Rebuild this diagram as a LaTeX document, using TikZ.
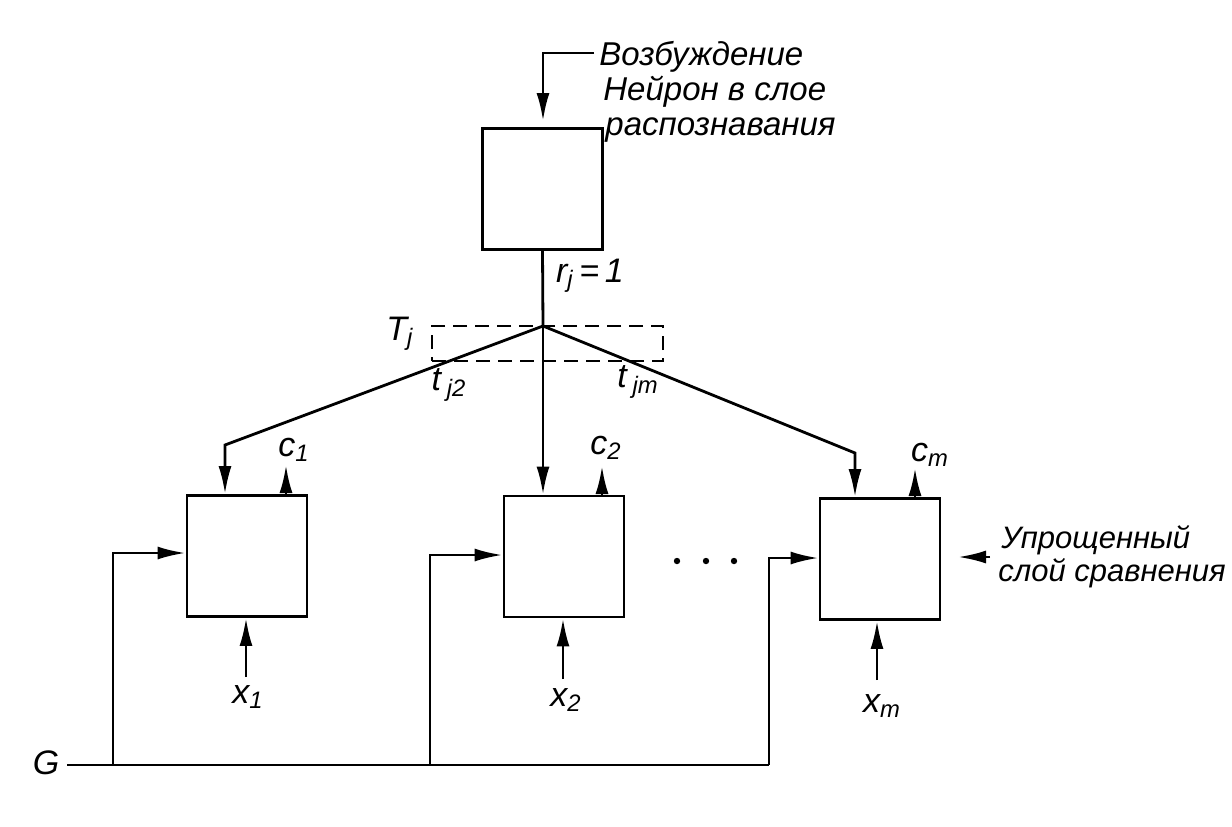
\documentclass[tikz,border=0pt]{standalone}
\usepackage{fontspec}
\setmainfont{Liberation Sans}
\usetikzlibrary{arrows.meta}
\newcommand\sbs[2]{\textit{#1}\textsubscript{\textit{#2}}}
\begin{document}
\begin{tikzpicture}[x=0.5pt,y=-0.5pt, line width=1.4pt,
  blk/.style={draw, minimum width=60pt, minimum height=60.5pt, inner sep=0pt},
  arr/.style={-{Latex[length=14pt,width=6.5pt]}},
  lbl/.style={font=\fontsize{17}{20}\selectfont\itshape, inner sep=0pt},
  dot/.style={circle, fill, inner sep=0pt, minimum size=3.2pt}]
\useasboundingbox (0,0) rectangle (1232,826);
% blocks
\node[blk] (top) at (542.5,189) {};
\node[blk] (b1) at (247,556) {};
\node[blk] (b2) at (564,556.5) {};
\node[blk] (b3) at (880,559) {};
% excitation input
\coordinate (e0) at (594,53);
\coordinate (e1) at (543,53);
\coordinate (e2) at (543,121);
\draw[arr] (e0) -- (e1) -- (e2);
\node[lbl, font=\fontsize{16.5}{17.5}\selectfont\itshape, align=left, anchor=north west] (t1) at (598,40)
  {Возбуждение\\\hspace*{2pt}Нейрон в слое\\\hspace*{3pt}распознавания};
% apex and T_j
\coordinate (apex) at (543,326);
\draw (top.south) -- (apex);
\node[lbl] (rj) at (590,276) {\sbs{r}{j}\,=\,\textit{1}};
\node[draw, dashed, line width=1pt, dash pattern=on 7pt off 4pt, minimum width=115.5pt, minimum height=17.5pt, inner sep=0pt] (Tbox) at (547.5,343.5) {};
\node[lbl] (Tj) at (400,334) {\sbs{T}{j}};
\node[lbl] (tj2) at (449,385) {\textit{t}\,\textsubscript{\textit{j2}}};
\node[lbl] (tjm) at (638,382) {\textit{t}\,\textsubscript{\textit{jm}}};
% distribution lines
\coordinate (k1) at (225,445);
\coordinate (k3) at (855,453);
\draw[arr] (apex) -- (k1) -- (k1 |- b1.north);
\draw[arr] (apex) -- (apex |- b2.north);
\draw[arr] (apex) -- (k3) -- (k3 |- b3.north);
% c outputs
\coordinate (c1) at (286,465);
\coordinate (c2) at (602,466);
\coordinate (c3) at (915,468);
\draw[arr] (c1 |- b1.north) -- (c1);
\draw[arr] (c2 |- b2.north) -- (c2);
\draw[arr] (c3 |- b3.north) -- (c3);
\node[lbl] (lc1) at (294,450) {\sbs{c}{1}};
\node[lbl] (lc2) at (606,448) {\sbs{c}{2}};
\node[lbl] (lc3) at (930,455) {\sbs{c}{m}};
% x inputs
\coordinate (x1) at (246,677);
\coordinate (x2) at (563,679);
\coordinate (x3) at (877,680);
\draw[arr] (x1) -- (x1 |- b1.south);
\draw[arr] (x2) -- (x2 |- b2.south);
\draw[arr] (x3) -- (x3 |- b3.south);
\node[lbl] (lx1) at (248,697) {\sbs{x}{1}};
\node[lbl] (lx2) at (566,700) {\sbs{x}{2}};
\node[lbl] (lx3) at (882,706) {\sbs{x}{m}};
% G line
\node[lbl] (G) at (46,763) {G};
\coordinate (g0) at (67,765);
\coordinate (f1) at (113,765);
\coordinate (f2) at (430,765);
\coordinate (f3) at (769,765);
\draw (g0) -- (f3);
\coordinate (h1) at (113,553);
\coordinate (h2) at (430,555);
\coordinate (h3) at (769,558);
\draw[arr] (f1) -- (h1) -- (h1 -| b1.west);
\draw[arr] (f2) -- (h2) -- (h2 -| b2.west);
\draw[arr] (f3) -- (h3) -- (h3 -| b3.west);
% dots
\node[dot] (d1) at (677,561) {};
\node[dot] (d2) at (706,561) {};
\node[dot] (d3) at (734,561) {};
% simplified comparison layer
\coordinate (s0) at (990,557);
\coordinate (s1) at (958,557);
\draw[arr] (s0) -- (s1);
\node[lbl, font=\fontsize{15.5}{16.5}\selectfont\itshape, align=left, anchor=west] (s2) at (997,557)
  {\hspace*{1.5pt}Упрощенный\\слой сравнения};
\end{tikzpicture}
\end{document}
